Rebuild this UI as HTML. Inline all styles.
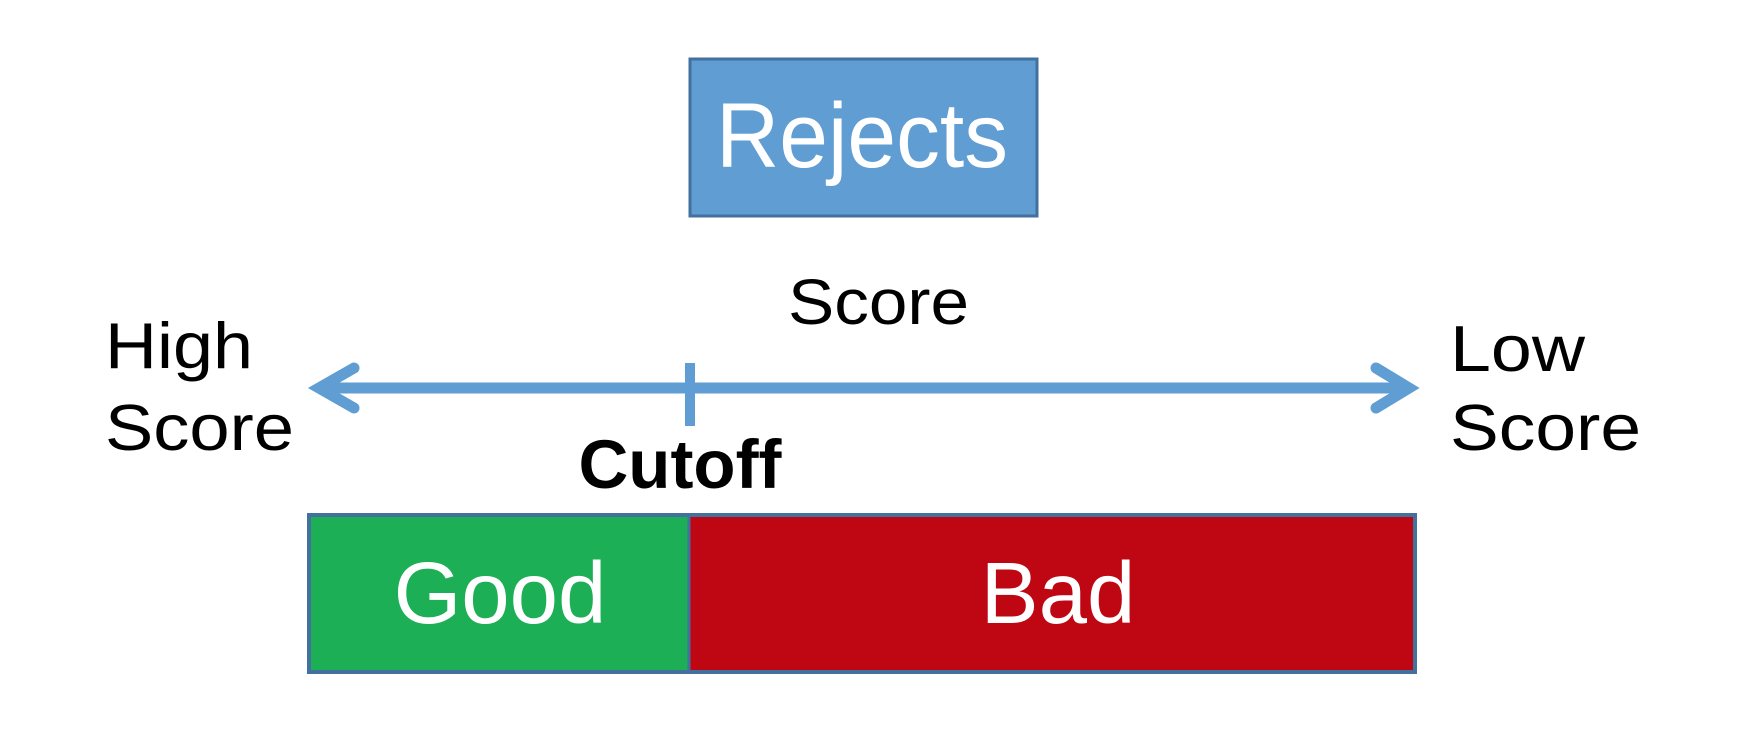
<!DOCTYPE html>
<html><head><meta charset="utf-8"><style>
html,body{margin:0;padding:0;background:#fff;width:1740px;height:750px;overflow:hidden}
svg{display:block}
text{font-family:"Liberation Sans",Arial,sans-serif}
</style></head><body>
<svg width="1740" height="750" viewBox="0 0 1740 750" xmlns="http://www.w3.org/2000/svg">
<rect x="690" y="59" width="347" height="157" fill="#5f9dd3" stroke="#41719c" stroke-width="3"/>
<text x="716" y="167" font-size="92" fill="#fff" textLength="292" lengthAdjust="spacingAndGlyphs">Rejects</text>
<text x="788" y="324" font-size="64" fill="#000" textLength="181" lengthAdjust="spacingAndGlyphs">Score</text>
<text x="105" y="368" font-size="65" fill="#000" textLength="148" lengthAdjust="spacingAndGlyphs">High</text>
<text x="105" y="450" font-size="65" fill="#000" textLength="189" lengthAdjust="spacingAndGlyphs">Score</text>
<text x="1450" y="371" font-size="65" fill="#000" textLength="135" lengthAdjust="spacingAndGlyphs">Low</text>
<text x="1450" y="450" font-size="65" fill="#000" textLength="191" lengthAdjust="spacingAndGlyphs">Score</text>
<line x1="322" y1="388" x2="1405" y2="388" stroke="#5f9dd3" stroke-width="11"/>
<polyline points="354,368 319,388 354,408" fill="none" stroke="#5f9dd3" stroke-width="11" stroke-linecap="round" stroke-linejoin="miter"/>
<polyline points="1376,368 1409,388 1376,408" fill="none" stroke="#5f9dd3" stroke-width="11" stroke-linecap="round" stroke-linejoin="miter"/>
<line x1="690" y1="363" x2="690" y2="426" stroke="#5f9dd3" stroke-width="10"/>
<text x="680" y="488" font-size="69" font-weight="bold" fill="#000" text-anchor="middle">Cutoff</text>
<rect x="309" y="515" width="380" height="157" fill="#1caf55"/>
<rect x="689" y="515" width="726" height="157" fill="#be0713"/>
<rect x="309" y="515" width="1106" height="157" fill="none" stroke="#41719c" stroke-width="4"/>
<line x1="689" y1="515" x2="689" y2="672" stroke="#41719c" stroke-width="3"/>
<text x="500" y="623" font-size="87" fill="#fff" text-anchor="middle">Good</text>
<text x="1058" y="623" font-size="87" fill="#fff" text-anchor="middle">Bad</text>
</svg>
</body></html>
